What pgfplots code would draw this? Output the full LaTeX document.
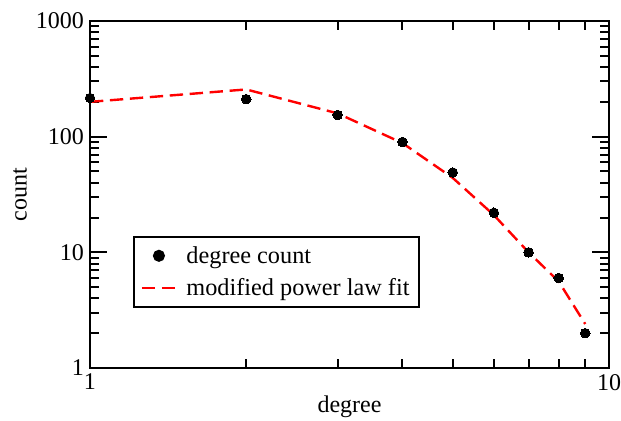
\documentclass[border=0pt]{standalone}
\usepackage{fontspec}
\setmainfont{Liberation Serif}
\usepackage{pgfplots}
\pgfplotsset{compat=1.18}

\begin{document}
\begin{tikzpicture}[x=1pt,y=1pt]
\begin{axis}[
    name=main,
    scale only axis,
    width=389.25pt,
    height=260.25pt,
    xmode=log,
    ymode=log,
    xmin=1, xmax=10,
    ymin=1, ymax=1000,
    xtick={1,10},
    xticklabels={1,10},
    ytick={1,10,100,1000},
    yticklabels={1,10,100,1000},
    axis line style={line width=1.5pt},
    every tick/.style={line width=1.5pt, black},
    major tick length=12.75pt,
    minor tick length=6.75pt,
    tick align=inside,
    tick pos=both,
    /pgf/number format/assume math mode=true,
    tick label style={font=\fontsize{18}{21}\selectfont},
    xticklabel style={yshift=-1pt},
    yticklabel style={xshift=-1pt},
    xlabel={degree},
    ylabel={count},
    label style={font=\fontsize{18}{21}\selectfont},
    xlabel style={yshift=3pt},
    ylabel style={yshift=0pt},
    legend style={
        at={(rel axis cs:0.083,0.173)},
        anchor=south west,
        draw=black,
        line width=1.5pt,
        font=\fontsize{18.2}{21}\selectfont,
        row sep=6pt,
        column sep=5pt,
        inner xsep=5pt,
        inner ysep=5pt,
        cells={anchor=west},
    },
    legend image code/.code={
        \draw[mark repeat=2, mark phase=2, #1]
            plot coordinates {(0pt,0pt) (12.75pt,0pt) (25.5pt,0pt)};
    },
    legend image post style={line width=1.8pt},
]
\addplot[only marks, mark=*, mark size=3.6pt, black, line width=0pt]
coordinates {
    (1,216) (2,211) (3,154) (4,90) (5,49) (6,22) (7,10) (8,6) (9,2)
};
\addlegendentry{degree count}

\addplot[red, line width=1.8pt, dash pattern=on 10pt off 5pt, mark=none]
coordinates {
    (1,200) (2,256) (3,159) (4,88) (5,44) (6,21) (7,10) (8,5.6) (9,2.4)
};
\addlegendentry{modified power law fit}
\end{axis}
\pgfresetboundingbox
\useasboundingbox ([shift={(-67.5pt,-39.75pt)}]main.south west) rectangle ([shift={(9pt,15.75pt)}]main.north east);
\end{tikzpicture}
\end{document}
